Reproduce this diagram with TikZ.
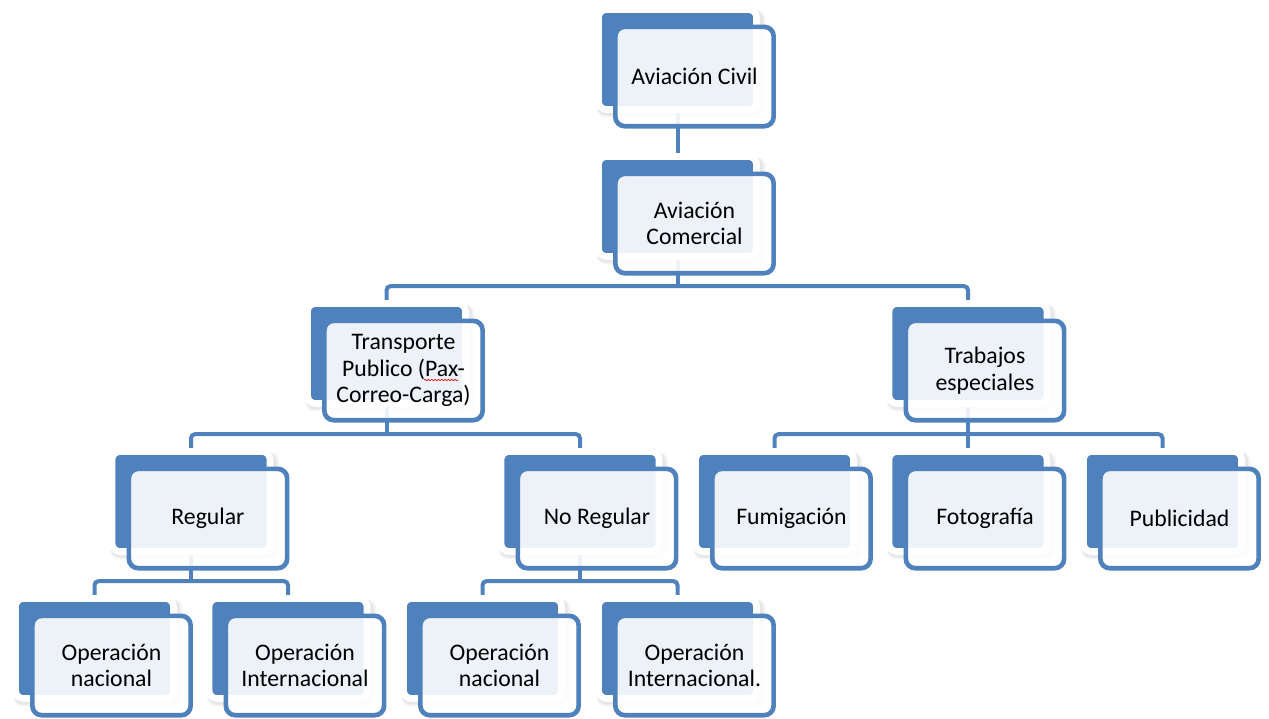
\documentclass[tikz,border=0pt]{standalone}
\usepackage{fontspec}
\setmainfont{Carlito}
\usetikzlibrary{shadows,backgrounds,decorations.pathmorphing}
\definecolor{ArtBlue}{HTML}{4F81BD}

\begin{document}
\begin{tikzpicture}[x=.75pt,y=-.75pt,font=\fontsize{17.8}{20}\selectfont,
 backbox/.style={rectangle,rounded corners=6pt,fill=ArtBlue,draw=white,line width=5pt,
   minimum width=118.5pt,minimum height=75pt,inner sep=0pt,
   drop shadow={shadow xshift=2.5pt,shadow yshift=-3pt,opacity=.08,shadow scale=1.07},
   drop shadow={shadow xshift=2pt,shadow yshift=-2.5pt,opacity=.12,shadow scale=1.05}},
 frontbox/.style={rectangle,rounded corners=7pt,draw=ArtBlue,line width=3.5pt,
   fill=white,fill opacity=.9,text opacity=1,draw opacity=1,
   minimum width=118.7pt,minimum height=74.5pt,inner sep=0pt,align=center},
 link/.style={draw=ArtBlue,line width=3pt,rounded corners=3pt}]
\useasboundingbox (0,0) rectangle (1269,718);
% level 1 and 2
\node[backbox] (civil) at (677.5,59.5) {};
\node[frontbox] (civil-t) at ([shift={(17,17)}]civil) {Aviación Civil};
\node[backbox] (comercial) at (677.5,206.5) {};
\node[frontbox] (comercial-t) at ([shift={(17,17)}]comercial) {Aviación\\Comercial};
% level 3
\node[backbox] (transporte) at (386.5,353.5) {};
\node[frontbox] (transporte-t) at ([shift={(17,17)}]transporte) {Transporte\\Publico (Pax-\\Correo-Carga)};
\node[backbox] (trabajos) at (968,353.5) {};
\node[frontbox] (trabajos-t) at ([shift={(17,17)}]trabajos) {Trabajos\\especiales};
% level 4
\node[backbox] (regular) at (191,501.5) {};
\node[frontbox] (regular-t) at ([shift={(17,17)}]regular) {Regular};
\node[backbox] (noregular) at (580,501.5) {};
\node[frontbox] (noregular-t) at ([shift={(17,17)}]noregular) {No Regular};
\node[backbox] (fumigacion) at (774.5,501.5) {};
\node[frontbox] (fumigacion-t) at ([shift={(17,17)}]fumigacion) {Fumigación};
\node[backbox] (fotografia) at (968,501.5) {};
\node[frontbox] (fotografia-t) at ([shift={(17,17)}]fotografia) {Fotografía};
\node[backbox] (publicidad) at (1162.5,501.5) {};
\node[frontbox] (publicidad-t) at ([shift={(17,17)}]publicidad) {Publicidad};
% level 5
\node[backbox] (opnac) at (94.5,648.5) {};
\node[frontbox] (opnac-t) at ([shift={(17,17)}]opnac) {Operación\\nacional};
\node[backbox] (opint) at (288,648.5) {};
\node[frontbox] (opint-t) at ([shift={(17,17)}]opint) {Operación\\Internacional};
\node[backbox] (opnacb) at (482.5,648.5) {};
\node[frontbox] (opnacb-t) at ([shift={(17,17)}]opnacb) {Operación\\nacional};
\node[backbox] (opintb) at (677.5,648.5) {};
\node[frontbox] (opintb-t) at ([shift={(17,17)}]opintb) {Operación\\Internacional.};
% spell check mark
\draw[red!85!black,line width=.5pt,decorate,decoration={snake,amplitude=.5pt,segment length=2.5pt}]
 (424,380) -- (458,380);
% connectors
\begin{scope}[on background layer]
\draw[link] (civil.south) -- (comercial.north);
\draw[link] (transporte.north) -- ++(0,-14) coordinate (bar1) -| (trabajos.north);
\draw[link] (comercial.south) -- (comercial.south |- bar1);
\draw[link] (regular.north) -- ++(0,-14) coordinate (bar2) -| (noregular.north);
\draw[link] (transporte.south) -- (transporte.south |- bar2);
\draw[link] (fumigacion.north) -- ++(0,-14) coordinate (bar3) -| (publicidad.north);
\draw[link] (trabajos.south) -- (trabajos.south |- bar3);
\draw[link] (fotografia.north) -- (fotografia.north |- bar3);
\draw[link] (opnac.north) -- ++(0,-14) coordinate (bar4) -| (opint.north);
\draw[link] (regular.south) -- (regular.south |- bar4);
\draw[link] (opnacb.north) -- ++(0,-14) coordinate (bar5) -| (opintb.north);
\draw[link] (noregular.south) -- (noregular.south |- bar5);
\end{scope}
\end{tikzpicture}
\end{document}
